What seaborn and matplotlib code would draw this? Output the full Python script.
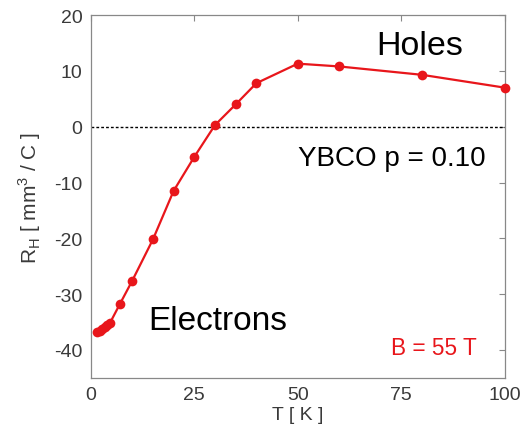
import numpy as np
import pandas as pd
import seaborn as sns
import matplotlib.pyplot as plt

# Hall coefficient of YBCO p = 0.10 at B = 55 T
temperature = [1.5, 2.2, 2.8, 3.4, 4.0, 4.6, 7, 10, 15, 20, 25, 30, 35, 40, 50, 60, 80, 100]
r_hall = [-36.8, -36.6, -36.2, -35.9, -35.5, -35.2, -31.8, -27.6, -20.2, -11.5, -5.4, 0.3,
          4.0, 7.8, 11.3, 10.8, 9.3, 7.0]
x_ticks = [0, 25, 50, 75, 100]
y_ticks = [-40, -30, -20, -10, 0, 10, 20]

df = pd.DataFrame({'T': temperature, 'RH': r_hall})

sns.set_style('white')
plt.rcParams['font.family'] = ['Liberation Sans', 'DejaVu Sans']
plt.rcParams['axes.unicode_minus'] = False

fig = plt.figure(figsize=(5.28, 4.35), dpi=100)
ax = fig.add_axes([0.172, 0.129, 0.784, 0.834])

ax.axhline(0, color='black', linestyle=(0, (2, 1.5)), linewidth=1.0, zorder=1)
sns.lineplot(data=df, x='T', y='RH', color='#e8161b', marker='o', markersize=7,
             markeredgewidth=0, linewidth=1.6, ax=ax, zorder=3, clip_on=False)

ax.set_xlim(0, 100)
ax.set_ylim(-45, 20)
ax.set_xticks(x_ticks)
ax.set_yticks(y_ticks)
ax.tick_params(direction='in', length=4, width=0.8, colors='#888888',
               labelcolor='#3a3a3a', labelsize=14, top=True, right=True, pad=6)
for s in ax.spines.values():
    s.set_color('#888888')
    s.set_linewidth(0.9)

ax.set_xlabel('T [ K ]', fontsize=14, color='#3a3a3a', labelpad=2)
ax.set_ylabel('R$_\\mathregular{H}$ [ mm$^\\mathregular{3}$ / C ]', fontsize=15,
              color='#3a3a3a', labelpad=8)

ax.text(79.5, 13.1, 'Holes', fontsize=24.5, color='black', ha='center', va='baseline')
ax.text(72.8, -6.8, 'YBCO p = 0.10', fontsize=20, color='black', ha='center', va='baseline')
ax.text(30.6, -36.2, 'Electrons', fontsize=24, color='black', ha='center', va='baseline')
ax.text(82.8, -40.7, 'B = 55 T', fontsize=16.3, color='#e8161b', ha='center', va='baseline')

fig.savefig('out.png', dpi=100)
